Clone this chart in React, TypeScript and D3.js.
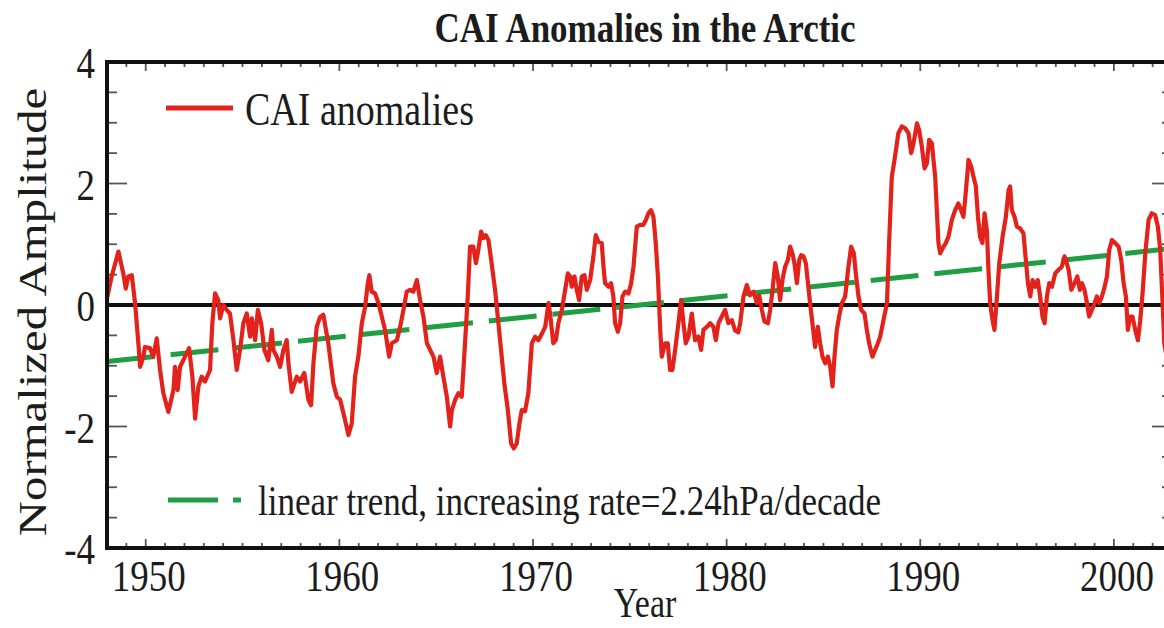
import React from 'react';
import * as d3 from 'd3';

// [year, normalized amplitude]
const CAI_SERIES: [number, number][] = [
  [1948.0, 0.11], [1948.24, 0.47], [1948.59, 0.88], [1948.84, 0.52], [1948.97, 0.27], [1949.1, 0.47],
  [1949.28, 0.49], [1949.45, 0.03], [1949.62, -0.63], [1949.71, -1.02], [1949.88, -0.85], [1949.96, -0.69],
  [1950.22, -0.71], [1950.39, -0.85], [1950.57, -0.55], [1950.74, -1.07], [1950.91, -1.45], [1951.17, -1.76],
  [1951.43, -1.4], [1951.51, -1.02], [1951.65, -1.4], [1951.77, -1.02], [1952.03, -0.85], [1952.24, -0.71],
  [1952.41, -1.18], [1952.55, -1.87], [1952.72, -1.34], [1952.89, -1.18], [1953.06, -1.26], [1953.32, -1.07],
  [1953.44, -0.3], [1953.58, 0.19], [1953.75, 0.08], [1953.84, -0.22], [1954.01, 0.0], [1954.18, -0.08],
  [1954.35, -0.14], [1954.53, -0.58], [1954.7, -1.07], [1954.87, -0.74], [1955.04, -0.3], [1955.22, -0.14],
  [1955.39, -0.52], [1955.48, -0.22], [1955.65, -0.58], [1955.79, -0.08], [1955.96, -0.3], [1956.13, -0.74],
  [1956.33, -0.91], [1956.51, -0.41], [1956.59, -0.74], [1956.77, -0.85], [1956.94, -1.02], [1957.11, -0.74],
  [1957.28, -0.58], [1957.37, -0.96], [1957.54, -1.43], [1957.8, -1.18], [1957.97, -1.26], [1958.19, -1.12],
  [1958.4, -1.56], [1958.54, -1.65], [1958.66, -0.96], [1958.83, -0.36], [1959.0, -0.2], [1959.17, -0.16],
  [1959.43, -0.63], [1959.69, -1.29], [1959.87, -1.51], [1960.04, -1.56], [1960.29, -1.89], [1960.47, -2.14],
  [1960.64, -1.95], [1960.81, -1.18], [1960.98, -0.85], [1961.16, -0.3], [1961.33, -0.03], [1961.47, 0.36],
  [1961.55, 0.49], [1961.67, 0.22], [1961.84, 0.19], [1962.02, 0.03], [1962.19, -0.19], [1962.36, -0.41],
  [1962.57, -0.85], [1962.71, -0.63], [1962.97, -0.58], [1963.14, -0.36], [1963.31, -0.08], [1963.48, 0.22],
  [1963.65, 0.25], [1963.82, 0.22], [1964.0, 0.41], [1964.17, 0.08], [1964.34, -0.19], [1964.52, -0.63],
  [1964.69, -0.74], [1964.86, -0.85], [1965.03, -1.12], [1965.2, -0.85], [1965.37, -1.18], [1965.55, -1.51],
  [1965.72, -2.0], [1965.81, -1.73], [1965.98, -1.56], [1966.15, -1.45], [1966.32, -1.51], [1966.49, -0.63],
  [1966.63, 0.14], [1966.75, 0.96], [1966.92, 0.96], [1967.05, 0.69], [1967.18, 0.91], [1967.32, 1.21],
  [1967.44, 1.1], [1967.56, 1.15], [1967.7, 1.07], [1967.84, 0.74], [1968.04, 0.25], [1968.18, -0.19],
  [1968.35, -0.74], [1968.52, -1.29], [1968.7, -1.73], [1968.87, -2.28], [1969.01, -2.36], [1969.16, -2.28],
  [1969.3, -1.95], [1969.42, -1.73], [1969.59, -1.75], [1969.76, -1.45], [1969.94, -0.63], [1970.11, -0.52],
  [1970.28, -0.58], [1970.46, -0.47], [1970.63, -0.36], [1970.8, 0.03], [1970.88, -0.14], [1971.05, -0.63],
  [1971.18, -0.58], [1971.31, -0.3], [1971.49, -0.08], [1971.66, 0.25], [1971.8, 0.52], [1971.92, 0.47],
  [1972.0, 0.3], [1972.14, 0.47], [1972.26, 0.25], [1972.38, 0.08], [1972.52, 0.47], [1972.66, 0.49],
  [1972.78, 0.25], [1972.95, 0.41], [1973.12, 0.8], [1973.24, 1.15], [1973.38, 1.04], [1973.55, 1.02],
  [1973.64, 0.63], [1973.72, 0.36], [1973.9, 0.3], [1974.03, 0.36], [1974.15, 0.14], [1974.24, -0.3],
  [1974.38, -0.44], [1974.5, -0.3], [1974.62, 0.14], [1974.76, 0.22], [1974.93, 0.19], [1975.07, 0.36],
  [1975.19, 0.63], [1975.36, 1.29], [1975.53, 1.32], [1975.7, 1.32], [1975.83, 1.4], [1975.96, 1.51],
  [1976.1, 1.56], [1976.22, 1.45], [1976.34, 1.02], [1976.45, 0.47], [1976.57, -0.41], [1976.65, -0.85],
  [1976.82, -0.63], [1976.96, -0.63], [1977.08, -1.07], [1977.2, -1.07], [1977.34, -0.74], [1977.51, -0.3],
  [1977.65, 0.08], [1977.77, -0.3], [1977.89, -0.63], [1978.03, -0.52], [1978.2, -0.14], [1978.37, -0.58],
  [1978.54, -0.52], [1978.68, -0.74], [1978.8, -0.41], [1978.98, -0.36], [1979.15, -0.3], [1979.32, -0.36],
  [1979.44, -0.58], [1979.58, -0.3], [1979.75, -0.19], [1979.92, -0.08], [1980.09, -0.3], [1980.27, -0.25],
  [1980.44, -0.42], [1980.6, -0.45], [1980.7, -0.3], [1980.87, 0.14], [1981.04, 0.33], [1981.21, 0.16],
  [1981.39, 0.22], [1981.56, 0.03], [1981.68, 0.16], [1981.82, -0.08], [1981.95, -0.27], [1982.13, -0.3],
  [1982.25, -0.08], [1982.37, 0.25], [1982.51, 0.69], [1982.64, 0.47], [1982.76, 0.08], [1982.88, 0.41],
  [1983.02, 0.63], [1983.16, 0.74], [1983.28, 0.96], [1983.4, 0.85], [1983.5, 0.69], [1983.63, 0.36],
  [1983.75, 0.74], [1983.85, 0.82], [1983.97, 0.8], [1984.09, 0.69], [1984.2, 0.36], [1984.31, 0.03],
  [1984.43, -0.3], [1984.57, -0.69], [1984.71, -0.36], [1984.83, -0.63], [1984.95, -0.85], [1985.09, -0.96],
  [1985.23, -0.85], [1985.35, -1.02], [1985.47, -1.34], [1985.57, -0.85], [1985.69, -0.41], [1985.81, -0.19],
  [1985.95, 0.03], [1986.12, 0.14], [1986.29, 0.63], [1986.43, 0.96], [1986.57, 0.85], [1986.67, 0.52],
  [1986.81, 0.14], [1986.95, -0.08], [1987.12, -0.14], [1987.24, -0.41], [1987.36, -0.63], [1987.53, -0.85],
  [1987.67, -0.74], [1987.81, -0.63], [1987.93, -0.52], [1988.1, -0.25], [1988.28, 0.03], [1988.39, 1.02],
  [1988.53, 2.11], [1988.67, 2.39], [1988.87, 2.83], [1989.05, 2.94], [1989.22, 2.91], [1989.39, 2.83],
  [1989.53, 2.5], [1989.65, 2.66], [1989.83, 2.99], [1989.94, 2.88], [1990.08, 2.61], [1990.22, 2.25],
  [1990.34, 2.33], [1990.46, 2.72], [1990.6, 2.66], [1990.77, 2.11], [1990.94, 1.02], [1991.03, 0.85],
  [1991.2, 0.96], [1991.32, 1.02], [1991.46, 1.13], [1991.63, 1.4], [1991.8, 1.56], [1991.97, 1.67],
  [1992.11, 1.56], [1992.23, 1.45], [1992.36, 1.89], [1992.49, 2.39], [1992.63, 2.28], [1992.75, 2.11],
  [1992.87, 1.95], [1992.98, 1.45], [1993.09, 1.12], [1993.21, 1.02], [1993.32, 1.51], [1993.44, 1.23],
  [1993.52, 0.58], [1993.61, 0.03], [1993.73, -0.25], [1993.83, -0.41], [1993.96, 0.14], [1994.08, 0.69],
  [1994.25, 1.12], [1994.42, 1.45], [1994.56, 1.89], [1994.64, 1.95], [1994.73, 1.56], [1994.87, 1.45],
  [1994.99, 1.29], [1995.16, 1.26], [1995.33, 1.18], [1995.42, 0.85], [1995.56, 0.36], [1995.68, 0.14],
  [1995.8, 0.41], [1995.94, 0.3], [1996.07, 0.41], [1996.19, 0.14], [1996.31, -0.19], [1996.42, -0.3],
  [1996.54, 0.14], [1996.66, 0.36], [1996.8, 0.3], [1996.97, 0.52], [1997.14, 0.58], [1997.31, 0.63],
  [1997.45, 0.8], [1997.52, 0.74], [1997.66, 0.58], [1997.8, 0.25], [1997.97, 0.36], [1998.11, 0.47],
  [1998.24, 0.25], [1998.35, 0.36], [1998.48, 0.25], [1998.61, 0.03], [1998.72, -0.19], [1998.86, -0.08],
  [1999.0, 0.03], [1999.12, 0.14], [1999.24, 0.03], [1999.38, 0.14], [1999.52, 0.3], [1999.64, 0.47],
  [1999.76, 0.91], [1999.9, 1.07], [2000.07, 1.02], [2000.24, 0.96], [2000.38, 0.74], [2000.5, 0.36],
  [2000.62, 0.14], [2000.72, -0.41], [2000.84, -0.19], [2000.96, -0.19], [2001.1, -0.41], [2001.24, -0.58],
  [2001.36, -0.25], [2001.48, 0.19], [2001.62, 0.85], [2001.79, 1.4], [2001.96, 1.51], [2002.13, 1.48],
  [2002.27, 1.29], [2002.39, 0.91], [2002.56, -0.3], [2002.6, -0.63], [2002.75, -0.9],
];

const TREND_YEARS = [1948, 2003];
const TREND_VALUES = [-0.93, 0.93];

const X_TICKS = [1950, 1960, 1970, 1980, 1990, 2000];
const Y_TICKS = [-4, -2, 0, 2, 4];

const TITLE = 'CAI Anomalies in the Arctic';
const Y_LABEL = 'Normalized Amplitude';
const X_LABEL = 'Year';
const LEGEND_CAI = 'CAI anomalies';
const LEGEND_TREND = 'linear trend, increasing rate=2.24hPa/decade';

const W = 1164;
const H = 628;
const SY = 1.22; // the source image is stretched vertically
const FONT = '"Liberation Serif", "Times New Roman", Times, serif';
const RED = '#e3221c';
const GREEN = '#1f9e43';
const INK = '#1c1c1c';

const x = d3.scaleLinear().domain([1948, 2003]).range([107, 1172]);
const y = d3.scaleLinear().domain([-4, 4]).range([548, 62]);

const caiLine = d3
  .line<[number, number]>()
  .x(d => x(d[0]))
  .y(d => y(d[1]));

const trendLine = d3
  .line<number>()
  .x((_, i) => x(TREND_YEARS[i]))
  .y(d => y(d));

const Txt: React.FC<{
  x: number;
  y: number;
  size: number;
  anchor?: string;
  weight?: string;
  rotate?: boolean;
  children: React.ReactNode;
}> = ({ x: tx, y: ty, size, anchor = 'start', weight = 'normal', rotate = false, children }) => (
  <text
    transform={`translate(${tx},${ty}) scale(1,${SY})${rotate ? ' rotate(-90)' : ''}`}
    fontSize={size}
    fontFamily={FONT}
    fontWeight={weight}
    textAnchor={anchor as any}
    fill={INK}
  >
    {children}
  </text>
);

export default function App() {
  const [x0, x1] = x.range();
  const [yb, yt] = y.range();
  const yMinor = d3.range(-4, 4.01, 0.5);
  const xMinor = d3.range(1948, 2003.01, 1);

  return (
    <svg
      width={W}
      height={H}
      viewBox={`0 0 ${W} ${H}`}
      style={{ position: 'absolute', left: 0, top: 0, background: '#fff' }}
    >
      <defs>
        <clipPath id="plot">
          <rect x={x0} y={yt} width={x1 - x0} height={yb - yt} />
        </clipPath>
      </defs>
      <rect width={W} height={H} fill="#fff" />

      {/* title */}
      <Txt x={645} y={42} size={35} anchor="middle" weight="bold">{TITLE}</Txt>

      {/* minor / major ticks */}
      <g stroke="#555" strokeWidth={1.8}>
        {yMinor.map(v => {
          const major = Math.abs(v % 2) < 1e-9;
          const len = major ? 20 : 10;
          return (
            <g key={`y${v}`}>
              <line x1={x0} x2={x0 + len} y1={y(v)} y2={y(v)} />
              <line x1={x1} x2={x1 - len} y1={y(v)} y2={y(v)} />
            </g>
          );
        })}
        {xMinor.map(v => {
          const major = v % 10 === 0;
          const len = major ? 9 : 5;
          return (
            <g key={`x${v}`}>
              <line x1={x(v)} x2={x(v)} y1={yb} y2={yb - len} />
              <line x1={x(v)} x2={x(v)} y1={yt} y2={yt + len} />
            </g>
          );
        })}
      </g>

      {/* zero line */}
      <line x1={x0} x2={x1} y1={y(0)} y2={y(0)} stroke="#111" strokeWidth={4} />

      {/* data */}
      <g clipPath="url(#plot)">
        <path
          d={trendLine(TREND_VALUES) || ''}
          fill="none"
          stroke={GREEN}
          strokeWidth={5}
          strokeDasharray="48 16"
        />
        <path
          d={caiLine(CAI_SERIES) || ''}
          fill="none"
          stroke={RED}
          strokeWidth={4.2}
          strokeLinejoin="round"
        />
      </g>

      {/* frame */}
      <rect x={x0} y={yt} width={x1 - x0} height={yb - yt} fill="none" stroke="#111" strokeWidth={4} />

      {/* tick labels */}
      {Y_TICKS.map(v => (
        <Txt key={`yl${v}`} x={95} y={y(v) + 16} size={37} anchor="end">{String(v)}</Txt>
      ))}
      {X_TICKS.map(v => (
        <Txt key={`xl${v}`} x={x(v) + 3} y={591} size={37} anchor="middle">{String(v)}</Txt>
      ))}

      {/* axis titles */}
      <Txt x={46} y={312} size={40} anchor="middle" rotate>{Y_LABEL}</Txt>
      <Txt x={645} y={617} size={34} anchor="middle">{X_LABEL}</Txt>

      {/* legend */}
      <line x1={166} x2={233} y1={108} y2={108} stroke={RED} strokeWidth={5} />
      <Txt x={245} y={125} size={38}>{LEGEND_CAI}</Txt>
      <line x1={168} x2={241} y1={500} y2={500} stroke={GREEN} strokeWidth={5} strokeDasharray="50 15" />
      <Txt x={258} y={515} size={35}>{LEGEND_TREND}</Txt>
    </svg>
  );
}
